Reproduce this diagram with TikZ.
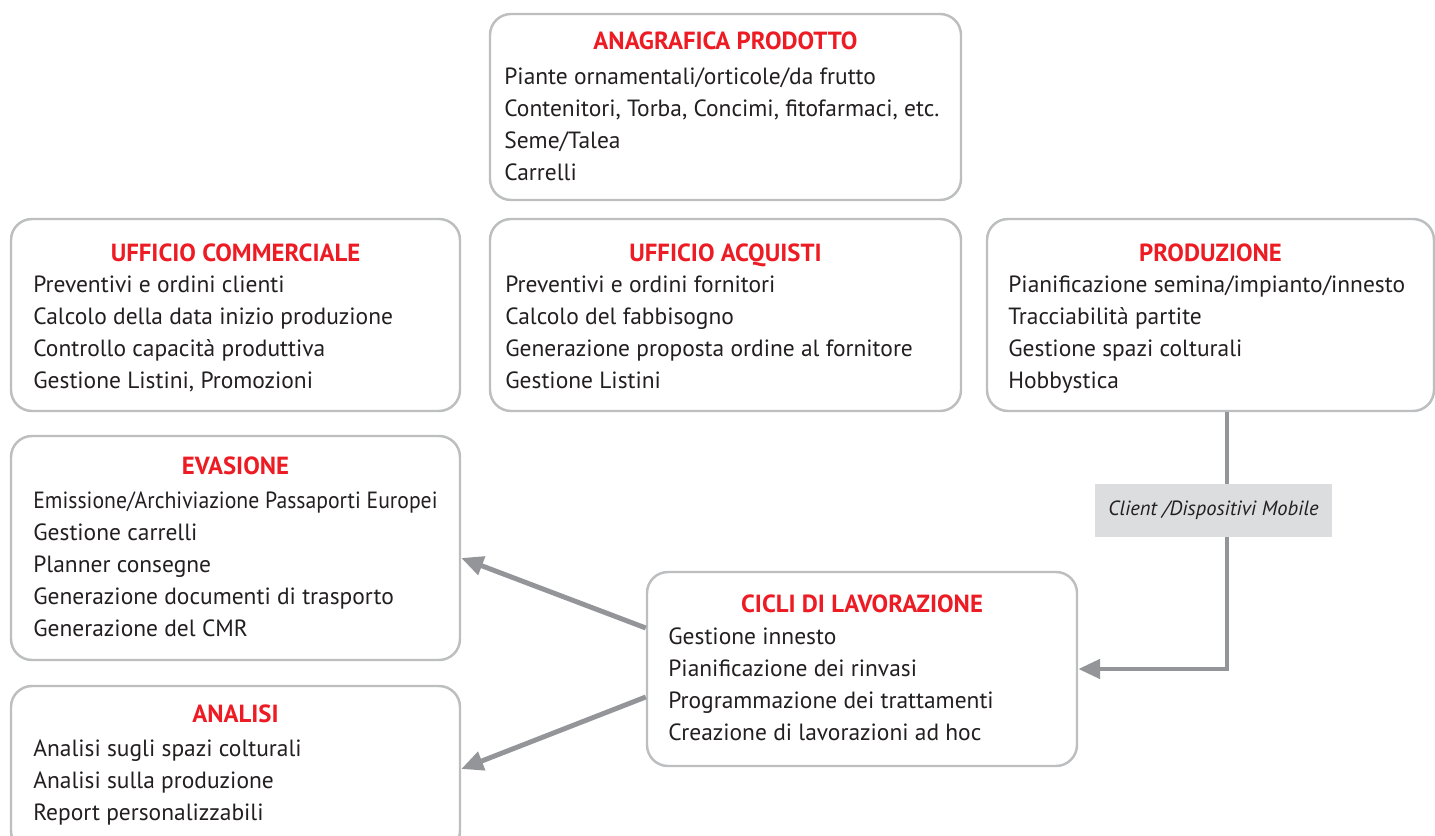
\documentclass[tikz,border=0pt]{standalone}
\usepackage{fontspec}
\usepackage{graphicx}
\setmainfont{PT Sans}
\usetikzlibrary{arrows.meta,calc}
\definecolor{bordo}{HTML}{BCBEC0}
\definecolor{linea}{HTML}{939598}
\definecolor{rosso}{HTML}{ED1C24}
\definecolor{testo}{HTML}{231F20}
\definecolor{etich}{HTML}{DCDDDE}
\tikzset{
  blocco/.style={draw=bordo,line width=1.4pt,rounded corners=0.42cm,fill=white},
  titolo/.style={anchor=base,inner sep=0pt,text=rosso,font=\fontsize{14.1}{18.2}\selectfont\bfseries},
  voce/.style={anchor=north west,align=left,inner sep=0pt,text=testo,font=\fontsize{13.35}{18.2}\selectfont},
  freccia/.style={draw=linea,line width=2.8pt,-{Triangle[length=0.44cm,width=0.38cm]}}
}

\begin{document}
\begin{tikzpicture}
  \useasboundingbox (0,0) rectangle (28.7,16.72);

  % boxes
  \node[blocco,minimum width=9.42cm,minimum height=3.72cm] (anagrafica) at (14.51,14.58) {};
  \node[blocco,minimum width=8.98cm,minimum height=3.84cm] (commerciale) at (4.71,10.42) {};
  \node[blocco,minimum width=9.42cm,minimum height=3.84cm] (acquisti) at (14.51,10.42) {};
  \node[blocco,minimum width=8.94cm,minimum height=3.84cm] (produzione) at (24.21,10.42) {};
  \node[blocco,minimum width=8.98cm,minimum height=4.48cm] (evasione) at (4.71,5.76) {};
  \node[blocco,minimum width=8.98cm,minimum height=3.32cm] (analisi) at (4.71,1.34) {};
  \node[blocco,minimum width=8.60cm,minimum height=3.88cm] (cicli) at (17.24,3.34) {};

  \node[titolo] (t-anagrafica) at (14.51,15.72) {ANAGRAFICA PRODOTTO};
  \node[voce] (v-anagrafica) at (10.08,15.49) {\strut Piante ornamentali/orticole/da frutto\\
    Contenitori, Torba, Concimi, fitofarmaci, etc.\\Seme/Talea\\Carrelli};

  \node[titolo] (t-commerciale) at (4.71,11.48) {UFFICIO COMMERCIALE};
  \node[voce] (v-commerciale) at (0.66,11.33) {\strut Preventivi e ordini clienti\\
    Calcolo della data inizio produzione\\Controllo capacità produttiva\\
    Gestione Listini, Promozioni};

  \node[titolo] (t-acquisti) at (14.51,11.48) {UFFICIO ACQUISTI};
  \node[voce] (v-acquisti) at (10.10,11.33) {\strut Preventivi e ordini fornitori\\
    Calcolo del fabbisogno\\Generazione proposta ordine al fornitore\\Gestione Listini};

  \node[titolo] (t-produzione) at (24.21,11.48) {PRODUZIONE};
  \node[voce] (v-produzione) at (20.16,11.33) {\strut Pianificazione semina/impianto/innesto\\
    Tracciabilità partite\\Gestione spazi colturali\\Hobbystica};

  \node[titolo] (t-evasione) at (4.71,7.22) {EVASIONE};
  \node[voce] (v-evasione) at (0.66,7.01) {\strut\scalebox{0.925}[1]{Emissione/Archiviazione Passaporti Europei}\\
    Gestione carrelli\\Planner consegne\\Generazione documenti di trasporto\\
    Generazione del CMR};

  \node[titolo] (t-analisi) at (4.71,2.26) {ANALISI};
  \node[voce] (v-analisi) at (0.66,2.05) {\strut Analisi sugli spazi colturali\\
    Analisi sulla produzione\\Report personalizzabili};

  \node[titolo] (t-cicli) at (17.24,4.46) {CICLI DI LAVORAZIONE};
  \node[voce] (v-cicli) at (13.36,4.29) {\strut Gestione innesto\\
    Pianificazione dei rinvasi\\Programmazione dei trattamenti\\
    Creazione di lavorazioni ad hoc};

  % connectors
  \coordinate (gomito) at (24.54,3.34);
  \draw[freccia] (produzione.south -| gomito) -- (gomito) -- (cicli.east);
  \node[fill=etich,minimum width=4.74cm,minimum height=1.06cm,inner sep=0pt,
    text=testo,font=\fontsize{11.7}{18.2}\selectfont\itshape] (mobile) at (24.27,6.51)
    {Client /Dispositivi Mobile};

  \draw[freccia] ($(cicli.west)+(0,0.82)$) -- ($(evasione.east)+(0,-0.2)$);
  \draw[freccia] ($(cicli.west)+(0,-0.56)$) -- (analisi.east);
\end{tikzpicture}
\end{document}
